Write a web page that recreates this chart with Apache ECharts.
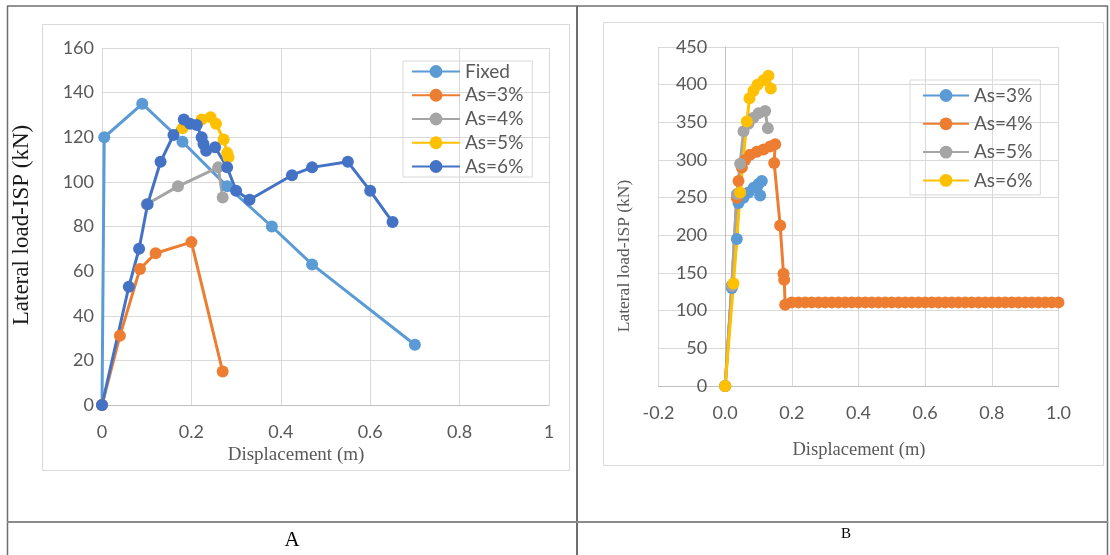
<!DOCTYPE html>
<html>
<head>
<meta charset="utf-8">
<script src="https://cdn.jsdelivr.net/npm/echarts@6/dist/echarts.min.js"></script>
<style>
html,body{margin:0;padding:0;background:#fff;}
#c{width:1110px;height:555px;}
</style>
</head>
<body>
<div id="c"></div>
<script>
// ---------- Panel A data ----------
const xTicksA = [0, 0.2, 0.4, 0.6, 0.8, 1];
const yTicksA = [0, 20, 40, 60, 80, 100, 120, 140, 160];
const namesA = ['Fixed', 'As=3%', 'As=4%', 'As=5%', 'As=6%'];
const fixedA = [[0,0],[0.005,120],[0.09,135],[0.18,118],[0.28,98],[0.38,80],[0.47,63],[0.70,27]];
const as3A = [[0,0],[0.04,31],[0.085,61],[0.12,68],[0.20,73],[0.27,15]];
const as4A = [[0.10,90],[0.17,98],[0.26,106.5],[0.27,93]];
const as5A = [[0.18,124],[0.223,128],[0.243,129],[0.255,126],[0.272,119],[0.28,113],[0.283,111]];
const as6A = [[0,0],[0.06,53],[0.083,70],[0.102,90],[0.131,109],[0.16,121],[0.183,128],[0.197,126],[0.212,125.5],[0.223,120],[0.227,117],[0.233,114],[0.253,115.5],[0.28,106.5],[0.30,96],[0.33,92],[0.425,103],[0.47,106.5],[0.55,109],[0.60,96],[0.65,82]];

// ---------- Panel B data ----------
const xTicksB = [-0.2, 0.0, 0.2, 0.4, 0.6, 0.8, 1.0];
const yTicksB = [0, 50, 100, 150, 200, 250, 300, 350, 400, 450];
const namesB = ['As=3%', 'As=4%', 'As=5%', 'As=6%'];
const as3B = [[0,0],[0.02,130],[0.035,195],[0.04,243],[0.055,250],[0.07,257],[0.085,263],[0.10,268],[0.11,272],[0.105,253]];
const as4B = [[0,0],[0.02,133],[0.035,250],[0.04,272],[0.05,290],[0.06,300],[0.075,307],[0.095,311],[0.115,314],[0.135,318],[0.15,321],[0.147,296],[0.165,213],[0.175,149],[0.177,141],[0.18,108],
  [0.20,111],[0.22,111],[0.24,111],[0.26,111],[0.28,111],[0.30,111],[0.32,111],[0.34,111],[0.36,111],[0.38,111],
  [0.40,111],[0.42,111],[0.44,111],[0.46,111],[0.48,111],[0.50,111],[0.52,111],[0.54,111],[0.56,111],[0.58,111],
  [0.60,111],[0.62,111],[0.64,111],[0.66,111],[0.68,111],[0.70,111],[0.72,111],[0.74,111],[0.76,111],[0.78,111],
  [0.80,111],[0.82,111],[0.84,111],[0.86,111],[0.88,111],[0.90,111],[0.92,111],[0.94,111],[0.96,111],[0.98,111],[1.00,111]];
const as5B = [[0,0],[0.02,133],[0.035,255],[0.045,295],[0.055,338],[0.07,348],[0.085,356],[0.10,362],[0.12,365],[0.128,342]];
const as6B = [[0,0],[0.025,136],[0.045,257],[0.065,351],[0.073,382],[0.085,392],[0.097,400],[0.115,406],[0.13,412],[0.137,395]];

const colorsA = ['#5B9BD5', '#ED7D31', '#A5A5A5', '#FFC000', '#4472C4'];
const colorsB = ['#5B9BD5', '#ED7D31', '#A5A5A5', '#FFC000'];
const dataA = [fixedA, as3A, as4A, as5A, as6A];
const dataB = [as3B, as4B, as5B, as6B];

const tickFont = 'Lato, "Liberation Sans", sans-serif';
const serif = '"Liberation Serif", "DejaVu Serif", serif';
const gridColor = '#d9d9d9';

function mkSeries(name, data, color, xi, yi) {
  return {
    type: 'line', name: name, data: data, xAxisIndex: xi, yAxisIndex: yi,
    symbol: 'circle', symbolSize: 12, showSymbol: true,
    lineStyle: { color: color, width: 3 },
    itemStyle: { color: color },
    emphasis: { disabled: true }, animation: false
  };
}

const series = [];
namesA.forEach((n, i) => series.push(mkSeries('A:' + n, dataA[i], colorsA[i], 0, 0)));
namesB.forEach((n, i) => series.push(mkSeries('B:' + n, dataB[i], colorsB[i], 1, 1)));

const chart = echarts.init(document.getElementById('c'), null, { renderer: 'canvas' });
const option = {
  animation: false,
  backgroundColor: '#fff',
  grid: [
    { left: 102, top: 48, width: 447, height: 357 },
    { left: 658.5, top: 47, width: 400, height: 339 }
  ],
  xAxis: [
    {
      type: 'value', gridIndex: 0, min: xTicksA[0], max: xTicksA[xTicksA.length - 1], interval: 0.2,
      axisLine: { show: true, lineStyle: { color: '#bfbfbf', width: 1 } },
      axisTick: { show: false },
      axisLabel: { color: '#595959', fontSize: 18, fontFamily: tickFont, margin: 18,
        formatter: v => String(+v.toFixed(1)) },
      splitLine: { show: true, lineStyle: { color: gridColor, width: 1 } }
    },
    {
      type: 'value', gridIndex: 1, min: xTicksB[0], max: xTicksB[xTicksB.length - 1], interval: 0.2,
      axisLine: { show: true, onZero: true, lineStyle: { color: '#bfbfbf', width: 1 } },
      axisTick: { show: false },
      axisLabel: { color: '#595959', fontSize: 18, fontFamily: tickFont, margin: 18,
        formatter: v => (Math.abs(v) < 1e-9 ? 0 : v).toFixed(1) },
      splitLine: { show: true, lineStyle: { color: gridColor, width: 1 } }
    }
  ],
  yAxis: [
    {
      type: 'value', gridIndex: 0, min: yTicksA[0], max: yTicksA[yTicksA.length - 1], interval: 20,
      axisLine: { show: false },
      axisTick: { show: false },
      axisLabel: { color: '#595959', fontSize: 18, fontFamily: tickFont, margin: 8 },
      splitLine: { show: true, lineStyle: { color: gridColor, width: 1 } }
    },
    {
      type: 'value', gridIndex: 1, min: yTicksB[0], max: yTicksB[yTicksB.length - 1], interval: 50,
      offset: -66.7,
      axisLine: { show: true, onZero: false, lineStyle: { color: '#bfbfbf', width: 1 } },
      axisTick: { show: false },
      axisLabel: { color: '#595959', fontSize: 18, fontFamily: tickFont, margin: 18 },
      splitLine: { show: true, lineStyle: { color: gridColor, width: 1 } }
    }
  ],
  legend: [
    {
      data: namesA.map(n => 'A:' + n),
      formatter: name => name.split(':')[1],
      orient: 'vertical', left: 403, top: 61,
      padding: [1, 9, 1, 8], itemGap: 4.75, itemWidth: 48, itemHeight: 16,
      borderColor: gridColor, borderWidth: 1,
      textStyle: { color: '#595959', fontSize: 19, fontFamily: tickFont },
      selectedMode: false
    },
    {
      data: namesB.map(n => 'B:' + n),
      formatter: name => name.split(':')[1],
      orient: 'vertical', left: 910, top: 80,
      padding: [6, 8, 5, 12], itemGap: 9.3, itemWidth: 46, itemHeight: 16,
      borderColor: gridColor, borderWidth: 1,
      textStyle: { color: '#595959', fontSize: 19, fontFamily: tickFont },
      selectedMode: false
    }
  ],
  graphic: [
    // table lines
    { type: 'line', shape: { x1: 7, y1: 6, x2: 1108, y2: 6 }, style: { stroke: '#6e6e6e', lineWidth: 1.5 }, silent: true },
    { type: 'line', shape: { x1: 7.5, y1: 6, x2: 7.5, y2: 555 }, style: { stroke: '#6e6e6e', lineWidth: 1.5 }, silent: true },
    { type: 'line', shape: { x1: 577, y1: 6, x2: 577, y2: 555 }, style: { stroke: '#6e6e6e', lineWidth: 2 }, silent: true },
    { type: 'line', shape: { x1: 1107.5, y1: 6, x2: 1107.5, y2: 555 }, style: { stroke: '#6e6e6e', lineWidth: 1.5 }, silent: true },
    { type: 'line', shape: { x1: 7, y1: 522, x2: 1108, y2: 522 }, style: { stroke: '#8a8a8a', lineWidth: 2 }, silent: true },
    // chart area frames
    { type: 'rect', shape: { x: 42.5, y: 24.5, width: 527, height: 446 }, style: { fill: 'none', stroke: gridColor, lineWidth: 1 }, silent: true, z: -1 },
    { type: 'rect', shape: { x: 603.5, y: 22.5, width: 500, height: 443 }, style: { fill: 'none', stroke: gridColor, lineWidth: 1 }, silent: true, z: -1 },
    // axis titles A
    { type: 'text', x: 22, y: 225, rotation: Math.PI / 2,
      style: { text: 'Lateral load-ISP (kN)', font: '23px ' + serif, fill: '#1a1a1a', textAlign: 'center', textVerticalAlign: 'middle' }, silent: true },
    { type: 'text', x: 296, y: 455,
      style: { text: 'Displacement (m)', font: '19px ' + serif, fill: '#595959', textAlign: 'center', textVerticalAlign: 'middle' }, silent: true },
    // axis titles B
    { type: 'text', x: 624, y: 256, rotation: Math.PI / 2,
      style: { text: 'Lateral load-ISP (kN)', font: '17.5px ' + serif, fill: '#595959', textAlign: 'center', textVerticalAlign: 'middle' }, silent: true },
    { type: 'text', x: 859, y: 450,
      style: { text: 'Displacement (m)', font: '18.5px ' + serif, fill: '#595959', textAlign: 'center', textVerticalAlign: 'middle' }, silent: true },
    // panel labels
    { type: 'text', x: 292, y: 540,
      style: { text: 'A', font: '21px ' + serif, fill: '#000', textAlign: 'center', textVerticalAlign: 'middle' }, silent: true },
    { type: 'text', x: 846, y: 534,
      style: { text: 'B', font: '15px ' + serif, fill: '#000', textAlign: 'center', textVerticalAlign: 'middle' }, silent: true }
  ],
  series: series
};
chart.setOption(option);
</script>
</body>
</html>
